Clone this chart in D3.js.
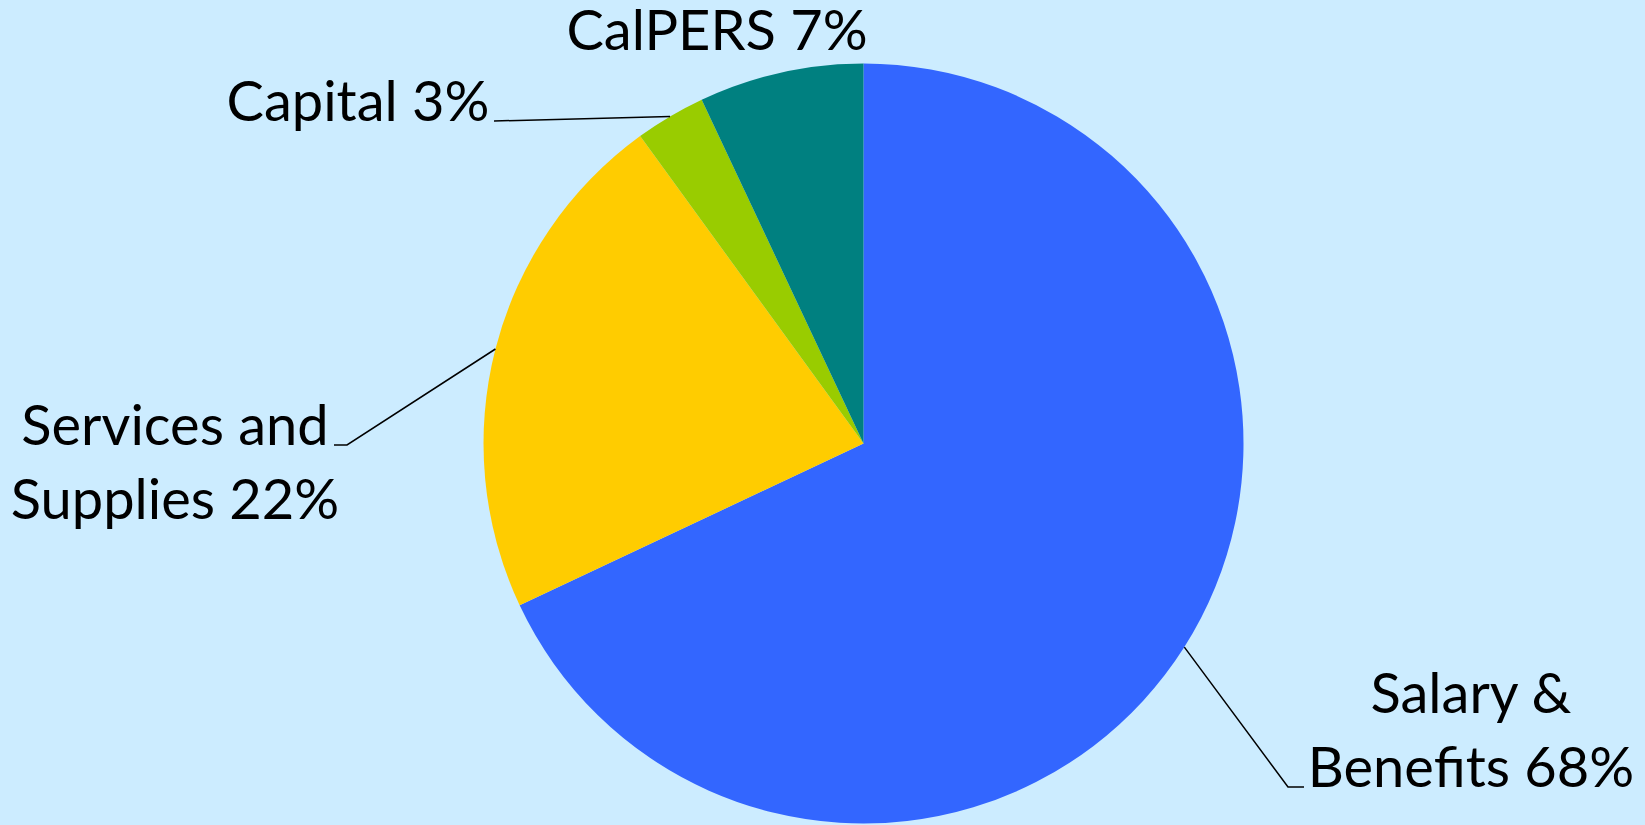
<!DOCTYPE html>
<html>
<head>
<meta charset="utf-8">
<script src="https://cdn.jsdelivr.net/npm/d3@7"></script>
<style>
  html, body { margin: 0; padding: 0; background: #CCECFF; }
  svg { display: block; }
  .label { font-family: Lato, "Open Sans", sans-serif; font-size: 56px; fill: #000; }
</style>
</head>
<body>
<script>
// Slice data, clockwise from 12 o'clock
const categories = ['Salary & Benefits', 'Services and Supplies', 'Capital', 'CalPERS'];
const shares = [68, 22, 3, 7];
const colors = ['#3366FF', '#FFCC00', '#99CC00', '#008080'];
const labelLines = [
  ['Salary &', 'Benefits 68%'],
  ['Services and', 'Supplies 22%'],
  ['Capital 3%'],
  ['CalPERS 7%']
];

const svgWidth = 1645;
const svgHeight = 825;
const cx = 863.5, cy = 443.5, radius = 380;

const svg = d3.select('body')
  .append('svg')
  .attr('width', svgWidth)
  .attr('height', svgHeight);

const data = categories.map((c, i) => ({ name: c, value: shares[i], color: colors[i], lines: labelLines[i] }));

const pie = d3.pie()
  .sort(null)
  .value(d => d.value);

const arc = d3.arc()
  .innerRadius(0)
  .outerRadius(radius);

const arcs = pie(data);

const g = svg.append('g')
  .attr('transform', `translate(${cx},${cy})`);

// Slices
g.selectAll('path.slice')
  .data(arcs)
  .enter()
  .append('path')
  .attr('class', 'slice')
  .attr('d', arc)
  .attr('fill', d => d.data.color);

// Label placement (anchor = text middle, baseline of first line), relative to svg
const labelPos = {
  'Salary & Benefits': { x: 1471, y: 713, leader: [1288, 787, 1304, 787] },
  'Services and Supplies': { x: 175, y: 445, leader: [347, 445, 334, 445] },
  'Capital': { x: 358, y: 121, leader: [494, 121] },
  'CalPERS': { x: 717, y: 50 }
};
const lineGap = 74;

// Leader lines: from slice edge (mid-angle) to label
arcs.forEach(d => {
  const p = labelPos[d.data.name];
  if (!p.leader) return;
  const mid = (d.startAngle + d.endAngle) / 2;
  const ex = cx + Math.sin(mid) * radius;
  const ey = cy - Math.cos(mid) * radius;
  const pts = [[ex, ey]];
  for (let i = 0; i < p.leader.length; i += 2) pts.push([p.leader[i], p.leader[i + 1]]);
  svg.append('path')
    .attr('d', d3.line()(pts))
    .attr('fill', 'none')
    .attr('stroke', '#000')
    .attr('stroke-width', 1.5);
});

// Labels
arcs.forEach(d => {
  const p = labelPos[d.data.name];
  const t = svg.append('text')
    .attr('class', 'label')
    .attr('text-anchor', 'middle')
    .attr('x', p.x)
    .attr('y', p.y);
  d.data.lines.forEach((ln, i) => {
    t.append('tspan')
      .attr('x', p.x)
      .attr('dy', i === 0 ? 0 : lineGap)
      .text(ln);
  });
});
</script>
</body>
</html>
